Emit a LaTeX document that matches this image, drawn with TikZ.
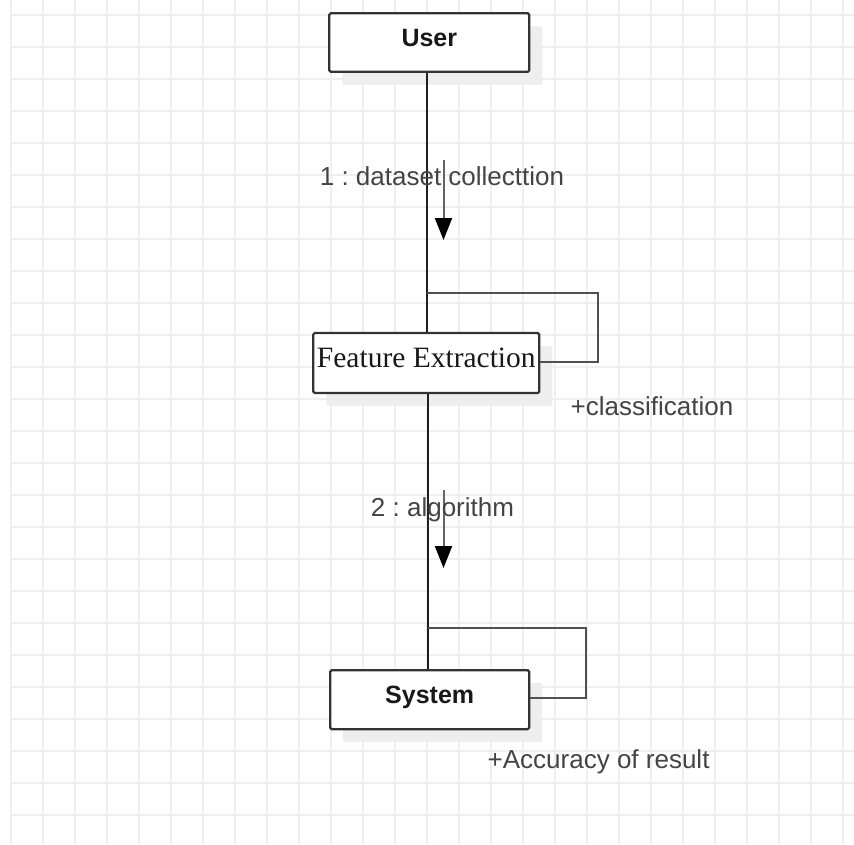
\documentclass[tikz,border=0pt]{standalone}
\usepackage{fontspec}
\setmainfont{Liberation Sans}
\newfontfamily\serifface{Liberation Serif}
\usetikzlibrary{arrows.meta,shadows}
\frenchspacing
\definecolor{gridc}{RGB}{239,239,239}
\definecolor{boxc}{RGB}{51,51,51}
\definecolor{labc}{RGB}{68,68,68}
\definecolor{loopc}{RGB}{80,80,80}
\definecolor{shaftc}{RGB}{100,100,100}
\definecolor{shadc}{RGB}{238,238,238}
\tikzset{
  gridline/.style={draw=gridc, line width=1.3pt},
  umlbox/.style={draw=boxc, line width=2.2pt, fill=white, rounded corners=1.5pt,
    drop shadow={shadow xshift=13pt, shadow yshift=-13pt, fill=shadc, opacity=1},
    text height=18pt, text depth=9.5pt, inner sep=0pt, text=black!90},
  lifeline/.style={draw=black!88, line width=1.8pt},
  selfloop/.style={draw=loopc, line width=2pt},
  msg/.style={draw=shaftc, line width=2pt, -{Triangle[width=17pt,length=22pt,fill=black,color=black]}},
  msglabel/.style={text=labc, anchor=base, inner sep=0pt, font=\fontsize{26}{30}\selectfont},
}
\begin{document}
\begin{tikzpicture}[x=1pt,y=-1pt]
\useasboundingbox (0,0) rectangle (854,844);
\fill[white] (0,0) rectangle (854,844);
% grid
\foreach \x in {11,43,...,843} \draw[gridline] (\x,0) -- (\x,844);
\foreach \y in {15,47,...,815} \draw[gridline] (11,\y) -- (854,\y);
% boxes
\node[umlbox, minimum width=200pt, minimum height=58.5pt, font=\bfseries\fontsize{25}{30}\selectfont] (user) at (429.3,42.5) {User};
\node[umlbox, minimum width=226pt, minimum height=60pt, font=\serifface\fontsize{29.5}{32}\selectfont] (feat) at (426.3,363) {Feature Extraction};
\node[umlbox, minimum width=199pt, minimum height=59pt, font=\bfseries\fontsize{25}{30}\selectfont] (sys) at (429.7,699.7) {System};
% lifelines
\coordinate (l1top) at (427,72);
\coordinate (l2x) at (428.3,0);
\draw[lifeline] (l1top |- user.south) -- (l1top |- feat.north);
\draw[lifeline] (l2x |- feat.south) -- (l2x |- sys.north);
% self loops
\coordinate (fl1) at (427,293);
\coordinate (fl2) at (598.3,361.7);
\draw[selfloop] (fl1) -- (fl1 -| fl2) -- (fl2) -- (fl2 -| feat.east);
\coordinate (sl1) at (428.3,628.3);
\coordinate (sl2) at (586,698.3);
\draw[selfloop] (sl1) -- (sl1 -| sl2) -- (sl2) -- (sl2 -| sys.east);
% messages
\coordinate (m1s) at (443.5,160);
\coordinate (m1e) at (443.5,240);
\draw[msg] (m1s) -- (m1e);
\coordinate (m2s) at (443.5,490);
\coordinate (m2e) at (443.5,568);
\draw[msg] (m2s) -- (m2e);
% labels
\node[msglabel] (lab1) at (442,185) {1 : dataset collecttion};
\node[msglabel] (lab2) at (442.5,516) {2 : algorithm};
\node[msglabel, anchor=base west] (lab3) at (570.5,415.7) {+classification};
\node[msglabel, anchor=base west] (lab4) at (487.5,768.3) {+Accuracy of result};
\end{tikzpicture}
\end{document}
